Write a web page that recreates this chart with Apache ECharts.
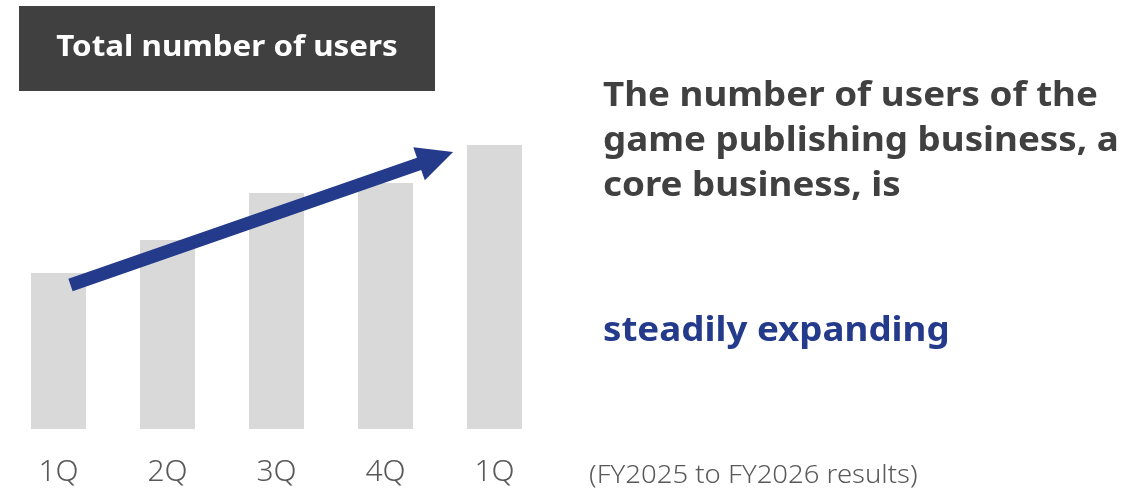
<!DOCTYPE html>
<html>
<head>
<meta charset="utf-8">
<script src="https://cdn.jsdelivr.net/npm/echarts@6/dist/echarts.min.js"></script>
<style>
  html, body { margin: 0; padding: 0; background: #ffffff; }
  #chart { width: 1145px; height: 491px; }
</style>
</head>
<body>
<div id="chart"></div>
<script>
// Quarterly user totals (relative scale), FY2025 1Q to FY2026 1Q
const quarters = ['1Q', '2Q', '3Q', '4Q', '1Q'];
const userTotals = [156, 189, 236, 246, 284];

const titleText = 'Total number of users';
const messageLines = ['The number of users of the', 'game publishing business, a', 'core business, is'];
const highlightText = 'steadily expanding';
const periodNote = '(FY2025 to FY2026 results)';

const FONT = '"Noto Sans", "Noto Sans CJK JP", sans-serif';
const NAVY = '#243a8a';
const GREY_TEXT = '#595959';
const WIDE = 1.08; // horizontal stretch for the wide gothic lettering

const chart = echarts.init(document.getElementById('chart'), null, { renderer: 'canvas' });

chart.setOption({
  backgroundColor: '#ffffff',
  animation: false,
  grid: { left: 4, right: 596, top: 129, bottom: 62, containLabel: false },
  xAxis: {
    type: 'category',
    data: quarters,
    axisLine: { show: false },
    axisTick: { show: false },
    axisLabel: {
      color: GREY_TEXT,
      fontFamily: FONT,
      fontSize: 30,
      fontWeight: 300,
      margin: 28
    }
  },
  yAxis: {
    type: 'value',
    min: 0,
    max: 300,
    show: false,
    splitLine: { show: false }
  },
  series: [{
    type: 'bar',
    data: userTotals,
    barWidth: 55,
    itemStyle: { color: '#d9d9d9' },
    silent: true
  }]
});

// Trend arrow running from the first bar up past the fourth
function buildArrow() {
  const first = chart.convertToPixel({ gridIndex: 0 }, [0, userTotals[0]]);
  const fourth = chart.convertToPixel({ gridIndex: 0 }, [3, userTotals[3]]);
  const last = chart.convertToPixel({ gridIndex: 0 }, [4, userTotals[4]]);
  const tail = [first[0] + 12, first[1] + 12];
  const tip = [fourth[0] + 0.62 * (last[0] - fourth[0]), last[1] + 7];
  const dx = tip[0] - tail[0], dy = tip[1] - tail[1];
  const len = Math.sqrt(dx * dx + dy * dy);
  const d = [dx / len, dy / len];
  const n = [-d[1], d[0]];
  const hw = 6.5, HW = 17.5, headLen = 36;
  const base = [tip[0] - d[0] * headLen, tip[1] - d[1] * headLen];
  const p = (pt, s) => [pt[0] + n[0] * s, pt[1] + n[1] * s];
  return [p(tail, hw), p(base, hw), p(base, HW), tip, p(base, -HW), p(base, -hw), p(tail, -hw)];
}

function textEl(x, y, text, fill, font, scaleX, align) {
  return {
    type: 'text',
    x: x,
    y: y,
    z: 11,
    scaleX: scaleX,
    style: {
      text: text,
      fill: fill,
      font: font,
      align: align || 'left',
      verticalAlign: 'middle'
    }
  };
}

const messageEls = messageLines.map((line, i) =>
  textEl(603, 96 + i * 45, line, '#404040', 'bold 34px ' + FONT, WIDE)
);

chart.setOption({
  graphic: [
    {
      type: 'rect',
      z: 10,
      shape: { x: 19, y: 6, width: 416, height: 85 },
      style: { fill: '#404040' },
      silent: true
    },
    textEl(227, 48, titleText, '#ffffff', 'bold 29px ' + FONT, WIDE, 'center'),
    {
      type: 'polygon',
      z: 10,
      shape: { points: buildArrow() },
      style: { fill: NAVY },
      silent: true
    },
    ...messageEls,
    textEl(603, 331, highlightText, NAVY, 'bold 34px ' + FONT, WIDE),
    textEl(589, 476, periodNote, GREY_TEXT, '300 25px ' + FONT, 1.1)
  ]
});
</script>
</body>
</html>
